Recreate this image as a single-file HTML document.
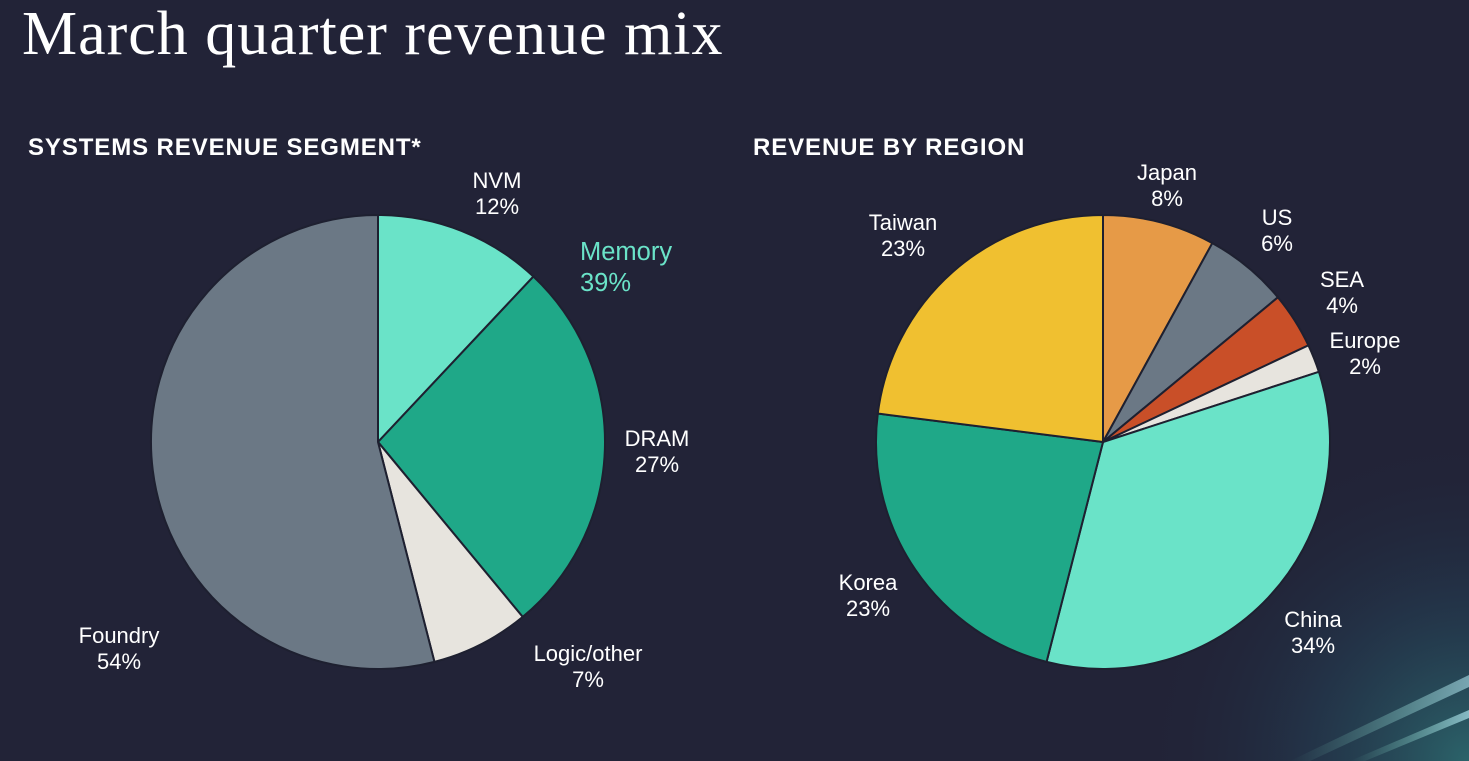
<!DOCTYPE html>
<html><head><meta charset="utf-8"><style>
html,body{margin:0;padding:0;}
body{width:1469px;height:761px;overflow:hidden;background:#222337;font-family:"Liberation Sans",sans-serif;position:relative;}
#title{position:absolute;left:22px;top:-1px;font-family:"Liberation Serif",serif;font-size:62px;color:#fff;margin:0;font-weight:normal;letter-spacing:1px;}
.sub{position:absolute;top:134px;font-size:24px;font-weight:bold;color:#fff;margin:0;letter-spacing:0.9px;}
svg{position:absolute;left:0;top:0;}
</style></head><body>
<svg width="1469" height="761">
<defs>
<radialGradient id="g1" cx="1469" cy="761" r="330" gradientUnits="userSpaceOnUse">
<stop offset="0" stop-color="#2d6f73" stop-opacity="0.85"/><stop offset="0.5" stop-color="#24455a" stop-opacity="0.45"/><stop offset="1" stop-color="#222337" stop-opacity="0"/>
</radialGradient>
<linearGradient id="g2" x1="0" y1="0" x2="1" y2="0"><stop offset="0" stop-color="#7fe0c0" stop-opacity="0"/><stop offset="1" stop-color="#bff5ff" stop-opacity="0.9"/></linearGradient>
</defs>
<rect x="1000" y="400" width="469" height="361" fill="url(#g1)"/>
<path d="M1290 761 L1469 675 L1469 687 L1310 761 Z" fill="url(#g2)" opacity="0.6"/>
<path d="M1350 761 L1469 710 L1469 718 L1365 761 Z" fill="url(#g2)" opacity="0.7"/>
</svg>
<h1 id="title">March quarter revenue mix</h1>
<div class="sub" style="left:28px">SYSTEMS REVENUE SEGMENT*</div>
<div class="sub" style="left:753px">REVENUE BY REGION</div>
<svg id="charts" width="1469" height="761"></svg>
<script>
const segLabels=["NVM","DRAM","Logic/other","Foundry"];
const segValues=[12,27,7,54];
const segColors=["#6ae3c8","#1fa888","#e7e4de","#6b7885"];
const segLabelPos=[[497,188],[657,446],[588,661],[119,643]];
const regLabels=["Japan","US","SEA","Europe","China","Korea","Taiwan"];
const regValues=[8,6,4,2,34,23,23];
const regColors=["#e69a47","#6b7885","#c94f28","#e7e4de","#6ae3c8","#1fa888","#f0c030"];
const regLabelPos=[[1167,180],[1277,225],[1342,287],[1365,348],[1313,627],[868,590],[903,230]];
const NS="http://www.w3.org/2000/svg";
const svg=document.getElementById('charts');
function pie(cx,cy,r,vals,cols,labels,pos,prefix){
  const tot=vals.reduce((a,b)=>a+b,0);let a0=-Math.PI/2;
  vals.forEach((v,i)=>{
    const a1=a0+v/tot*2*Math.PI;
    const x0=cx+r*Math.cos(a0),y0=cy+r*Math.sin(a0),x1=cx+r*Math.cos(a1),y1=cy+r*Math.sin(a1);
    const p=document.createElementNS(NS,'path');
    p.setAttribute('d',`M${cx} ${cy} L${x0} ${y0} A${r} ${r} 0 ${a1-a0>Math.PI?1:0} 1 ${x1} ${y1} Z`);
    p.setAttribute('fill',cols[i]);p.setAttribute('stroke','#1e2030');p.setAttribute('stroke-width','2');
    
    
    svg.appendChild(p);
    const t=document.createElementNS(NS,'text');
    t.setAttribute('x',pos[i][0]);t.setAttribute('y',pos[i][1]);t.setAttribute('fill','#fff');
    t.setAttribute('font-size','22');t.setAttribute('text-anchor','middle');t.setAttribute('font-family','Liberation Sans, sans-serif');
    t.innerHTML=`<tspan x="${pos[i][0]}">${labels[i]}</tspan><tspan x="${pos[i][0]}" dy="26">${v}%</tspan>`;
    
    
    svg.appendChild(t);
    a0=a1;
  });
}
pie(378,442,227,segValues,segColors,segLabels,segLabelPos,'segment');
pie(1103,442,227,regValues,regColors,regLabels,regLabelPos,'region');
const m=document.createElementNS(NS,'text');
m.setAttribute('x',580);m.setAttribute('y',260);m.setAttribute('fill','#6ae3c8');m.setAttribute('font-size','25.5');m.setAttribute('font-family','Liberation Sans, sans-serif');
m.innerHTML='<tspan x="580">Memory</tspan><tspan x="580" dy="31">'+(segValues[0]+segValues[1])+'%</tspan>';


svg.appendChild(m);
</script>
</body></html>
